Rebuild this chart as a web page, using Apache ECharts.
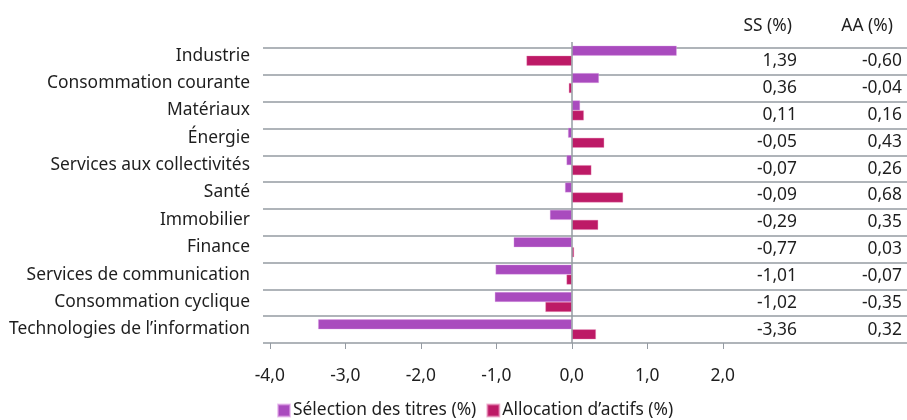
<!DOCTYPE html>
<html>
<head>
<meta charset="utf-8">
<script src="https://cdn.jsdelivr.net/npm/echarts@6/dist/echarts.min.js"></script>
<style>
  html, body { margin: 0; padding: 0; background: #fff; }
  #chart { width: 907px; height: 420px; }
</style>
</head>
<body>
<div id="chart"></div>
<script>
// Sectors, top to bottom
const sectors = [
  'Industrie', 'Consommation courante', 'Matériaux', 'Énergie',
  'Services aux collectivités', 'Santé', 'Immobilier', 'Finance',
  'Services de communication', 'Consommation cyclique',
  'Technologies de l\u2019information'
];
// Security selection effect (%)
const selection = [1.39, 0.36, 0.11, -0.05, -0.07, -0.09, -0.29, -0.77, -1.01, -1.02, -3.36];
// Asset allocation effect (%)
const allocation = [-0.60, -0.04, 0.16, 0.43, 0.26, 0.68, 0.35, 0.03, -0.07, -0.35, 0.32];
// Value axis tick labels
const xTicks = [-4, -3, -2, -1, 0, 1, 2];
const seriesNames = ['Sélection des titres (%)', 'Allocation d\u2019actifs (%)'];
const tableHeaders = ['SS (%)', 'AA (%)'];

const FONT = '"Noto Sans", "Open Sans", sans-serif';
const FS = 17.4;
const TEXT = '#1e1e1e';
const LINE = '#959ba2';
const PURPLE = '#a94bbe';
const MAGENTA = '#bd1a66';

const fmt = v => v.toFixed(2).replace('.', ',');

const chart = echarts.init(document.getElementById('chart'), null, { renderer: 'canvas' });

chart.setOption({
  animation: false,
  textStyle: { fontFamily: FONT },
  title: [
    { text: tableHeaders[0], right: 110, top: 13,
      textStyle: { fontFamily: FONT, fontSize: FS, fontWeight: 'normal', color: TEXT } },
    { text: tableHeaders[1], right: 9, top: 13,
      textStyle: { fontFamily: FONT, fontSize: FS, fontWeight: 'normal', color: TEXT } }
  ],
  legend: {
    data: seriesNames,
    left: 277,
    top: 402,
    padding: 0,
    icon: 'rect',
    itemWidth: 12,
    itemHeight: 12,
    itemGap: 10,
    textStyle: { fontFamily: FONT, fontSize: FS, color: TEXT, padding: [0, 0, 0, -2] }
  },
  grid: [
    // bars
    { left: 263, right: 0, top: 42, bottom: 77, containLabel: false },
    // value table rows
    { left: 263, right: 0, top: 48, bottom: 77, containLabel: false }
  ],
  xAxis: [
    {
      gridIndex: 0,
      type: 'value',
      min: -4.09,
      max: 4.44,
      axisLine: { show: false },
      splitLine: { show: false },
      axisTick: { show: true, length: 6, lineStyle: { color: LINE }, customValues: xTicks },
      axisLabel: {
        customValues: xTicks,
        margin: 25,
        fontFamily: FONT, fontSize: FS, color: TEXT,
        formatter: v => v.toFixed(1).replace('.', ',')
      }
    },
    { gridIndex: 1, type: 'value', show: false, min: 0, max: 1 }
  ],
  yAxis: [
    {
      gridIndex: 0,
      type: 'category',
      inverse: true,
      data: sectors,
      axisLine: { show: false },
      axisTick: { show: false },
      splitLine: { show: false },
      axisLabel: { margin: 13, fontFamily: FONT, fontSize: FS, color: TEXT }
    },
    {
      gridIndex: 1,
      type: 'category',
      inverse: true,
      position: 'left',
      data: sectors,
      axisLine: { show: false },
      axisTick: { show: false },
      axisLabel: { show: false },
      splitLine: { show: true, lineStyle: { color: LINE, width: 1.5 } }
    },
    {
      gridIndex: 1,
      type: 'category',
      inverse: true,
      position: 'right',
      offset: -110,
      data: selection.map(fmt),
      axisLine: { show: false },
      axisTick: { show: false },
      splitLine: { show: false },
      axisLabel: { margin: 0, align: 'right', fontFamily: FONT, fontSize: FS, color: TEXT }
    },
    {
      gridIndex: 1,
      type: 'category',
      inverse: true,
      position: 'right',
      offset: 0,
      data: allocation.map(fmt),
      axisLine: { show: false },
      axisTick: { show: false },
      splitLine: { show: false },
      axisLabel: { margin: -5, align: 'right', fontFamily: FONT, fontSize: FS, color: TEXT }
    }
  ],
  series: [
    {
      name: seriesNames[0],
      type: 'bar',
      xAxisIndex: 0,
      yAxisIndex: 0,
      data: selection,
      barWidth: 10,
      barGap: '0%',
      itemStyle: { color: PURPLE, borderColor: 'rgba(225,165,232,0.6)', borderWidth: 0.6 },
      markLine: {
        silent: true,
        symbol: ['none', 'none'],
        label: { show: false },
        lineStyle: { color: LINE, type: 'solid', width: 1.5 },
        data: [{ xAxis: 0 }]
      }
    },
    {
      name: seriesNames[1],
      type: 'bar',
      xAxisIndex: 0,
      yAxisIndex: 0,
      data: allocation,
      barWidth: 10,
      barGap: '0%',
      itemStyle: { color: MAGENTA, borderColor: 'rgba(232,140,185,0.6)', borderWidth: 0.6 }
    }
  ]
});
</script>
</body>
</html>
